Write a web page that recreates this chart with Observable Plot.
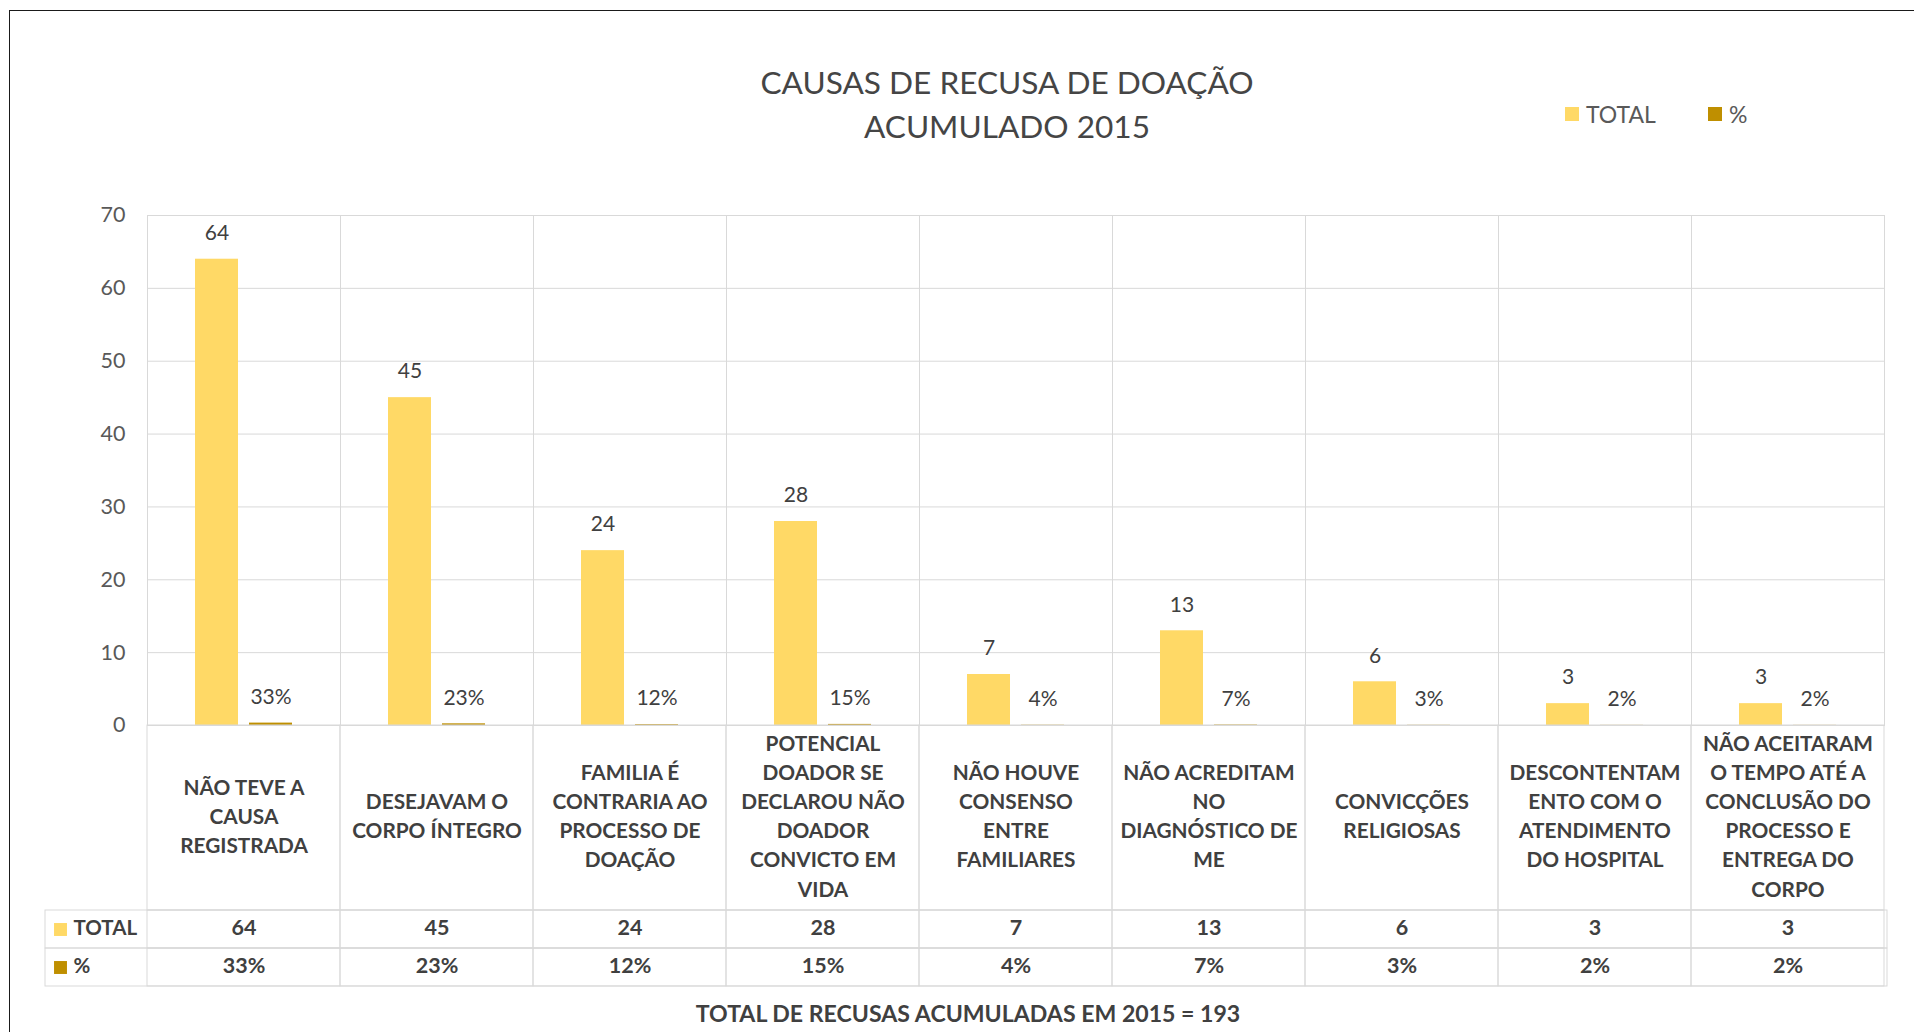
<!DOCTYPE html>
<html>
<head>
<meta charset="utf-8">
<script src="https://cdn.jsdelivr.net/npm/d3@7"></script>
<script src="https://cdn.jsdelivr.net/npm/@observablehq/plot@0.6"></script>
<style>
  html, body { margin: 0; padding: 0; background: #fff; width: 1914px; height: 1032px; overflow: hidden; }
  .abs { position: absolute; }
  #frame { left: 9px; top: 10px; width: 1960px; height: 1100px; border-left: 1.5px solid #1a1a1a; border-top: 1.5px solid #1a1a1a; }
  #title { left: 607px; width: 800px; top: 60px; text-align: center; font-family: Lato, sans-serif; font-size: 31.6px; line-height: 44px; color: #454545; }
  #legend { left: 1565px; top: 100px; height: 28px; font-family: Lato, sans-serif; font-size: 23px; color: #595959; display: flex; align-items: center; white-space: nowrap; }
  #legend .sw { display: inline-block; width: 14px; height: 14px; margin-right: 7px; }
  #legend .item { display: flex; align-items: center; margin-right: 52px; }
  #caption { left: 568px; width: 800px; top: 999px; text-align: center; font-family: Lato, sans-serif; font-weight: bold; font-size: 23.1px; line-height: 28px; color: #404040; }
  svg { display: block; }
</style>
</head>
<body>
<div id="frame" class="abs"></div>
<div id="title" class="abs"></div>
<div id="legend" class="abs"></div>
<div id="chart" class="abs" style="left:0;top:160px"></div>
<div id="labels" class="abs" style="left:0;top:724px"></div>
<div id="table" class="abs" style="left:0;top:909px"></div>
<div id="caption" class="abs"></div>
<script>
// ---- data ----
const titleLines = ["CAUSAS DE RECUSA DE DOAÇÃO", "ACUMULADO 2015"];
const categories = [
  "NÃO TEVE A\nCAUSA\nREGISTRADA",
  "DESEJAVAM O\nCORPO ÍNTEGRO",
  "FAMILIA É\nCONTRARIA AO\nPROCESSO DE\nDOAÇÃO",
  "POTENCIAL\nDOADOR SE\nDECLAROU NÃO\nDOADOR\nCONVICTO EM\nVIDA",
  "NÃO HOUVE\nCONSENSO\nENTRE\nFAMILIARES",
  "NÃO ACREDITAM\nNO\nDIAGNÓSTICO DE\nME",
  "CONVICÇÕES\nRELIGIOSAS",
  "DESCONTENTAM\nENTO COM O\nATENDIMENTO\nDO HOSPITAL",
  "NÃO ACEITARAM\nO TEMPO ATÉ A\nCONCLUSÃO DO\nPROCESSO E\nENTREGA DO\nCORPO"
];
const totals = [64, 45, 24, 28, 7, 13, 6, 3, 3];
const percents = [0.33, 0.23, 0.12, 0.15, 0.04, 0.07, 0.03, 0.02, 0.02];
const seriesNames = ["TOTAL", "%"];
const yTicks = [0, 10, 20, 30, 40, 50, 60, 70];
const captionText = "TOTAL DE RECUSAS ACUMULADAS EM 2015 = 193";

// ---- styles ----
const seriesColors = ["#FFD966", "#BF8F00"];
const gridColor = "#d9d9d9";
const textColor = "#404040";
const fmtPct = d3.format(".0%");

// ---- derived tables ----
const long = categories.flatMap((c, i) => [
  {category: c, series: "TOTAL", value: totals[i]},
  {category: c, series: "%", value: percents[i]}
]);
const labelOf = d => d.series === "%" ? fmtPct(d.value) : String(d.value);
const cells = long.map(d => ({category: d.category, row: d.series, text: labelOf(d)}));

// ---- header ----
document.getElementById("title").innerHTML = titleLines.map(t => `<div>${t}</div>`).join("");
document.getElementById("legend").innerHTML = seriesNames.map((s, i) =>
  `<span class="item"><span class="sw" style="background:${seriesColors[i]}"></span>${s}</span>`).join("");
document.getElementById("caption").textContent = captionText;

const baseStyle = {fontFamily: "Lato, sans-serif", color: "#595959", background: "transparent", overflow: "visible"};

// ---- bar chart ----
const chart = Plot.plot({
  width: 1914, height: 566,
  marginTop: 55, marginBottom: 1, marginLeft: 144, marginRight: 27,
  style: {...baseStyle, fontSize: "21px"},
  fx: {domain: categories, padding: 0, axis: null, label: null},
  x: {domain: seriesNames, paddingInner: 0.2, paddingOuter: 0.86, axis: null},
  y: {domain: [0, 70], axis: null},
  color: {domain: seriesNames, range: seriesColors},
  marks: [
    Plot.gridY(yTicks, {stroke: gridColor, strokeOpacity: 1}),
    Plot.frame({stroke: gridColor}),
    Plot.axisY(yTicks, {tickSize: 0, tickPadding: 22, fill: "#595959", label: null, fontSize: 21.5}),
    Plot.barY(long, {fx: "category", x: "series", y: "value", fill: "series"}),
    Plot.text(long, {fx: "category", x: "series", y: "value", text: labelOf, dy: -26, fill: textColor, fontSize: 21})
  ]
});
document.getElementById("chart").appendChild(chart);

// ---- category label row ----
const labelsRow = Plot.plot({
  width: 1914, height: 187,
  marginTop: 1, marginBottom: 1, marginLeft: 144, marginRight: 27,
  style: {...baseStyle, fontSize: "20.8px"},
  x: {domain: categories, padding: 0, axis: null},
  marks: [
    Plot.cell(categories, {x: d => d, stroke: gridColor, fill: "none"}),
    Plot.text(categories, {x: d => d, text: d => d, dy: -3.5, fontWeight: "bold", fontSize: 20.8, lineHeight: 1.4, fill: textColor})
  ]
});
document.getElementById("labels").appendChild(labelsRow);

// ---- data table rows ----
const table = Plot.plot({
  width: 1914, height: 78,
  marginTop: 1, marginBottom: 1, marginLeft: 45, marginRight: 27,
  style: {...baseStyle, fontSize: "20px"},
  x: {domain: categories, range: [144, 1887], padding: 0, axis: null},
  y: {domain: seriesNames, padding: 0, axis: null},
  color: {domain: seriesNames, range: seriesColors},
  marks: [
    Plot.cell(seriesNames, {y: d => d, stroke: gridColor, fill: "none"}),
    Plot.cell(cells, {x: "category", y: "row", stroke: gridColor, fill: "none"}),
    Plot.dot(seriesNames, {y: d => d, frameAnchor: "left", dx: 15, symbol: "square", r: 7.3, fill: d => d, stroke: "none"}),
    Plot.text(seriesNames, {y: d => d, text: d => d, dy: -1, frameAnchor: "left", dx: 28, textAnchor: "start", fontWeight: "bold", fontSize: 20.5, fill: textColor}),
    Plot.text(cells, {x: "category", y: "row", text: "text", dy: -1, fontWeight: "bold", fontSize: 21.5, fill: textColor})
  ]
});
document.getElementById("table").appendChild(table);
</script>
</body>
</html>
